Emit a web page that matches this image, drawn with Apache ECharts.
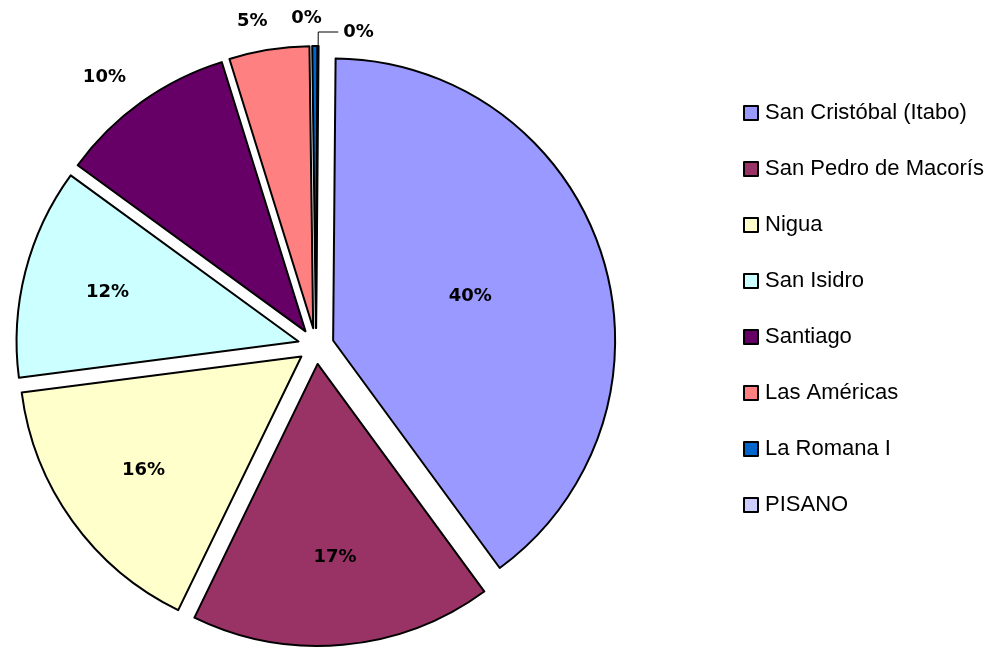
<!DOCTYPE html>
<html lang="es">
<head>
    <meta charset="UTF-8">
    <title>Generación por planta</title>
    <script src="https://cdn.jsdelivr.net/npm/echarts@6/dist/echarts.min.js"></script>
</head>
<body style="margin:0;background:#fff;">
<div id="main" style="width:1003px;height:650px;"></div>
<script>
    // datos (porcentaje de cada planta)
    var plants = ['San Cristóbal (Itabo)', 'San Pedro de Macorís', 'Nigua', 'San Isidro', 'Santiago', 'Las Américas', 'La Romana I', 'PISANO'];
    var shares = [39.9, 17.3, 15.8, 12.1, 10.2, 4.6, 0.3, 0.05];
    var colors = ['#9999FF', '#993366', '#FFFFCC', '#CCFFFF', '#660066', '#FF8080', '#0066CC', '#CCCCFF'];

    var cx = 316, cy = 346;
    // las etiquetas medianas van mas afuera que la grande (como en Excel)
    var pushOut = [1, 1.35, 1.35, 1.37, 1, 1, 1, 1];
    // etiquetas de afuera: largo de la guia [length, length2]
    var outLine = {4: [30, -7], 5: [29, -8], 6: [28, -12], 7: [14, 20]};

    var pieData = plants.map(function (name, i) {
        var item = {
            name: name,
            value: shares[i],
            selected: true,
            itemStyle: {color: colors[i]}
        };
        if (outLine[i]) {
            item.label = {position: 'outside'};
            item.labelLine = {show: i === 7, length: outLine[i][0], length2: outLine[i][1]};
        }
        return item;
    });

    var labelFont = {
        color: '#000',
        fontFamily: 'DejaVu Sans',
        fontWeight: 'bold',
        fontSize: 18,
        formatter: function (p) {
            return Math.round(p.percent) + '%';
        }
    };

    var myChart = echarts.init(document.getElementById('main'));
    var option = {
        backgroundColor: '#fff',
        animation: false,
        legend: {
            orient: 'vertical',
            left: 738,
            top: 97,
            itemWidth: 14,
            itemHeight: 14,
            itemGap: 34,
            icon: 'rect',
            selectedMode: false,
            itemStyle: {borderColor: '#000', borderWidth: 2},
            textStyle: {color: '#000', fontFamily: 'Liberation Sans', fontSize: 22, lineHeight: 22, padding: [0, 0, 0, 2]},
            data: plants
        },
        series: [
            {
                type: 'pie',
                center: [cx, cy],
                radius: 282,
                startAngle: 89.5,
                clockwise: true,
                selectedMode: 'multiple',
                selectedOffset: 18,
                avoidLabelOverlap: false,
                itemStyle: {borderColor: '#000', borderWidth: 2},
                label: Object.assign({position: 'inside'}, labelFont),
                labelLine: {show: false, length: 18, length2: 4, lineStyle: {color: '#000', width: 1}},
                labelLayout: function (p) {
                    var k = pushOut[p.dataIndex];
                    if (k === 1) return {};
                    var r = p.labelRect;
                    var lx = r.x + r.width / 2, ly = r.y + r.height / 2;
                    return {dx: (lx - cx) * (k - 1), dy: (ly - cy) * (k - 1)};
                },
                emphasis: {disabled: true},
                select: {
                    itemStyle: {borderColor: '#000', borderWidth: 2},
                    label: labelFont
                },
                data: pieData
            }
        ]
    };
    myChart.setOption(option);
</script>
</body>
</html>
